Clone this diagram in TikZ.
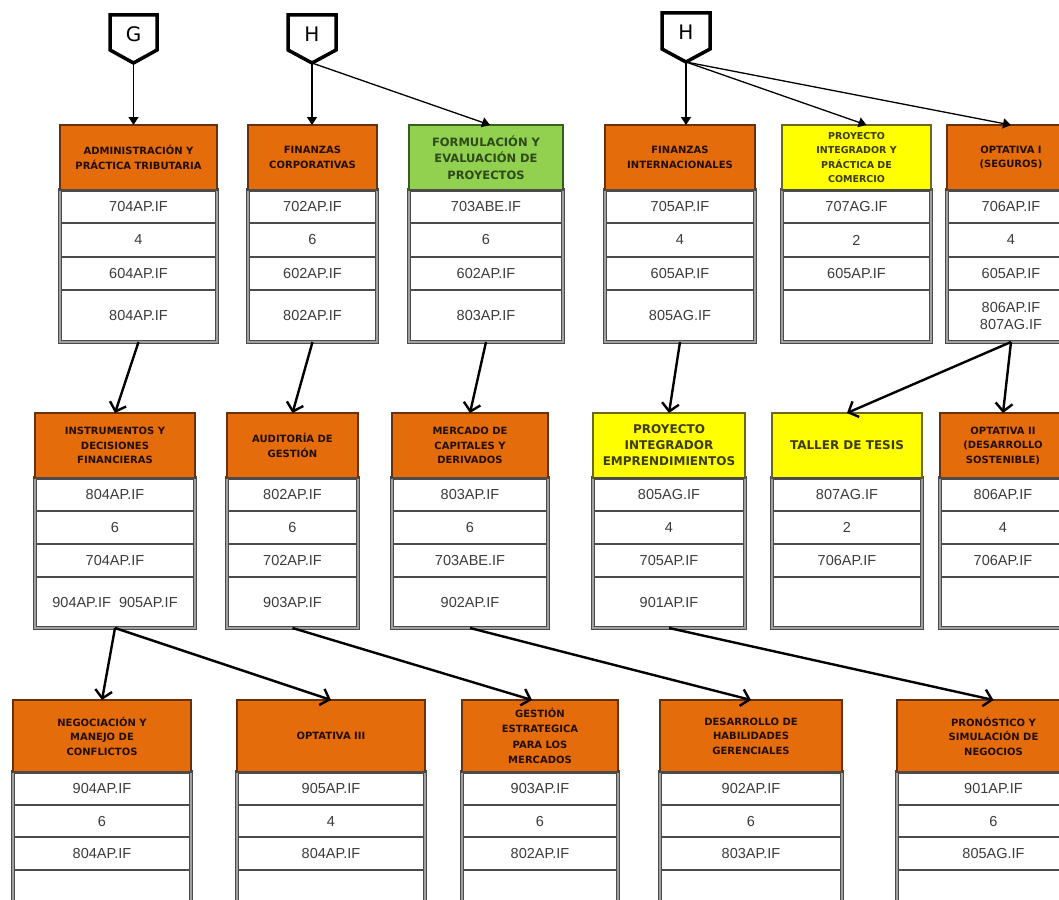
\documentclass[tikz,border=0pt]{standalone}
\usepackage{fontspec}
\setmainfont{Liberation Sans}
\newfontfamily\hdfont{DejaVu Sans}
\usetikzlibrary{arrows.meta,calc}

\definecolor{orangeh}{RGB}{228,108,10}
\definecolor{greenh}{RGB}{146,208,80}
\definecolor{yellowh}{RGB}{255,255,0}
\definecolor{orangeb}{RGB}{105,48,12}
\definecolor{greenb}{RGB}{55,95,30}
\definecolor{yellowb}{RGB}{105,105,25}
\definecolor{framedark}{RGB}{75,75,75}
\definecolor{framelight}{RGB}{160,160,160}
\definecolor{celltext}{RGB}{60,60,60}
\definecolor{hdcol}{RGB}{35,15,5}
\definecolor{hdgreencol}{RGB}{45,75,25}
\definecolor{hdyellowcol}{RGB}{60,60,20}

\tikzset{
  boxbg/.style={fill=white, inner sep=0pt, outer sep=0pt, anchor=north west},
  frameline/.style={draw=framedark, double=framelight, line width=1.1pt, double distance=1.8pt},
  sepline/.style={draw=framedark, line width=1.3pt},
  hdorange/.style={fill=orangeh, draw=orangeb},
  hdgreen/.style={fill=greenh, draw=greenb},
  hdyellow/.style={fill=yellowh, draw=yellowb},
  hdtext/.style={align=center, inner sep=0pt, text=hdcol,
    font=\hdfont\bfseries\fontsize{10}{14.5}\selectfont},
  cell/.style={align=center, inner sep=0pt, text=celltext,
    font=\fontsize{14.5}{16.5}\selectfont},
  toparr/.style={line width=1.3pt, -{Triangle[width=10pt,length=8pt]}},
  midarr/.style={line width=2.4pt, -{Straight Barb[width=17pt,length=8pt]}},
  pent/.style={line width=3.5pt, draw=black, fill=white, line join=miter},
  pentlabel/.style={font=\hdfont\fontsize{20}{20}\selectfont, inner sep=0pt},
}

\newcommand\rowgeom[1]{\ifcase#1\or
  \def\ttop{125}\def\thb{190}\def\tsa{223}\def\tsb{257}\def\tsc{290}\def\tbot{342}\or
  \def\ttop{413}\def\thb{478}\def\tsa{511}\def\tsb{544}\def\tsc{577}\def\tbot{628}\or
  \def\ttop{700}\def\thb{772}\def\tsa{805}\def\tsb{837}\def\tsc{870}\def\tbot{935}\fi}

% #1 name, #2 x1, #3 x2, #4 row, #5 header style, #6 text options, #7 header text
\newcommand\cbox[7]{%
  \rowgeom{#4}%
  \pgfmathsetmacro\cx{(#2+#3)/2}%
  \pgfmathsetlengthmacro\bw{(#3-#2)*1pt}%
  \pgfmathsetlengthmacro\bh{(\tbot-\ttop)*1pt}%
  \pgfmathsetmacro\hy{(\ttop+\thb)/2}%
  \node[boxbg, minimum width=\bw, minimum height=\bh] (#1) at (#2,\ttop) {};
  \foreach \s in {\tsa,\tsb,\tsc} \draw[sepline] (#2,\s) -- (#3,\s);
  \draw[frameline] (#2,\thb) rectangle (#3,\tbot);
  \draw[#5, line width=2pt] (#2,\ttop) rectangle (#3,\thb);
  \draw[sepline] (#2,\thb) -- (#3,\thb);
  \node[hdtext, #6] (#1-h) at (\cx,\hy) {#7};
}
\newcommand\ccells[5]{%
  \node[cell] (#1-1) at (\cx,{(\thb+\tsa)/2}) {#2};
  \node[cell] (#1-2) at (\cx,{(\tsa+\tsb)/2}) {#3};
  \node[cell] (#1-3) at (\cx,{(\tsb+\tsc)/2}) {#4};
  \node[cell] (#1-4) at (\cx,{(\tsc+\tbot)/2}) {#5};
}

\begin{document}
\begin{tikzpicture}[x=1pt,y=-1pt]
\useasboundingbox (0,0) rectangle (1059,899);
\fill[white] (0,0) rectangle (1059,899);
\clip (0,0) rectangle (1059,899);

% ---------- row 1 ----------
\cbox{A}{60}{217}{1}{hdorange}{}{ADMINISTRACIÓN Y\\PRÁCTICA TRIBUTARIA}
\ccells{A}{704AP.IF}{4}{604AP.IF}{804AP.IF}
\cbox{B}{248}{377}{1}{hdorange}{}{FINANZAS\\CORPORATIVAS}
\ccells{B}{702AP.IF}{6}{602AP.IF}{802AP.IF}
\cbox{C}{409}{563}{1}{hdgreen}{text=hdgreencol, font=\hdfont\bfseries\fontsize{11.5}{16.5}\selectfont}{FORMULACIÓN Y\\EVALUACIÓN DE\\PROYECTOS}
\ccells{C}{703ABE.IF}{6}{602AP.IF}{803AP.IF}
\cbox{D}{605}{755}{1}{hdorange}{}{FINANZAS\\INTERNACIONALES}
\ccells{D}{705AP.IF}{4}{605AP.IF}{805AG.IF}
\cbox{E}{782}{931}{1}{hdyellow}{text=hdyellowcol, font=\hdfont\bfseries\fontsize{9.5}{14.5}\selectfont}{PROYECTO\\INTEGRADOR Y\\PRÁCTICA DE\\COMERCIO}
\ccells{E}{707AG.IF}{2}{605AP.IF}{}
\cbox{F}{947}{1075}{1}{hdorange}{}{OPTATIVA I\\(SEGUROS)}
\ccells{F}{706AP.IF}{4}{605AP.IF}{806AP.IF\\807AG.IF}

% ---------- row 2 ----------
\cbox{G}{35}{195}{2}{hdorange}{}{INSTRUMENTOS Y\\DECISIONES\\FINANCIERAS}
\ccells{G}{804AP.IF}{6}{704AP.IF}{904AP.IF\ \ 905AP.IF}
\cbox{H}{227}{358}{2}{hdorange}{}{AUDITORÍA DE\\GESTIÓN}
\ccells{H}{802AP.IF}{6}{702AP.IF}{903AP.IF}
\cbox{I}{392}{548}{2}{hdorange}{}{MERCADO DE\\CAPITALES Y\\DERIVADOS}
\ccells{I}{803AP.IF}{6}{703ABE.IF}{902AP.IF}
\cbox{J}{593}{745}{2}{hdyellow}{text=hdyellowcol, font=\hdfont\bfseries\fontsize{12}{16}\selectfont}{PROYECTO\\INTEGRADOR\\EMPRENDIMIENTOS}
\ccells{J}{805AG.IF}{4}{705AP.IF}{901AP.IF}
\cbox{K}{772}{922}{2}{hdyellow}{text=hdyellowcol, font=\hdfont\bfseries\fontsize{12}{14}\selectfont}{TALLER DE TESIS}
\ccells{K}{807AG.IF}{2}{706AP.IF}{}
\cbox{L}{940}{1066}{2}{hdorange}{}{OPTATIVA II\\(DESARROLLO\\SOSTENIBLE)}
\ccells{L}{806AP.IF}{4}{706AP.IF}{}

% ---------- row 3 ----------
\cbox{M}{13}{191}{3}{hdorange}{}{NEGOCIACIÓN Y\\MANEJO DE\\CONFLICTOS}
\ccells{M}{904AP.IF}{6}{804AP.IF}{}
\cbox{N}{237}{425}{3}{hdorange}{}{OPTATIVA III}
\ccells{N}{905AP.IF}{4}{804AP.IF}{}
\cbox{O}{462}{618}{3}{hdorange}{font=\hdfont\bfseries\fontsize{10}{15.5}\selectfont}{GESTIÓN\\ESTRATEGICA\\PARA LOS\\MERCADOS}
\ccells{O}{903AP.IF}{6}{802AP.IF}{}
\cbox{P}{660}{842}{3}{hdorange}{}{DESARROLLO DE\\HABILIDADES\\GERENCIALES}
\ccells{P}{902AP.IF}{6}{803AP.IF}{}
\cbox{Q}{897}{1090}{3}{hdorange}{}{PRONÓSTICO Y\\SIMULACIÓN DE\\NEGOCIOS}
\ccells{Q}{901AP.IF}{6}{805AG.IF}{}

% ---------- off-page connectors ----------
\draw[pent] (110,15) -- (157,15) -- (157,50) -- (133.5,63) -- (110,50) -- cycle;
\node[pentlabel] (pG) at (133.5,34) {G};
\coordinate (pGtip) at (133.5,63);

\draw[pent] (288,15) -- (336,15) -- (336,50) -- (312,63) -- (288,50) -- cycle;
\node[pentlabel] (pH1) at (312,34) {H};
\coordinate (pH1tip) at (312,63);

\draw[pent] (662,13) -- (710,13) -- (710,49) -- (686,62) -- (662,49) -- cycle;
\node[pentlabel] (pH2) at (686,32) {H};
\coordinate (pH2tip) at (686,62);

% ---------- connectors ----------
\draw[toparr] (pGtip) -- (pGtip |- A.north);
\draw[toparr] (pH1tip) -- (pH1tip |- B.north);
\draw[toparr] (pH1tip) -- ([xshift=4pt]C.north);
\draw[toparr] (pH2tip) -- (pH2tip |- D.north);
\draw[toparr] (pH2tip) -- ([xshift=10pt]E.north);
\draw[toparr] (pH2tip) -- (F.north);

\draw[midarr] (A.south) -- (G.north);
\draw[midarr] (B.south) -- (H.north);
\draw[midarr] (C.south) -- (I.north);
\draw[midarr] (D.south) -- (J.north);
\draw[midarr] (F.south) -- (K.north);
\draw[midarr] (F.south) -- (L.north);
\draw[midarr] (G.south) -- (M.north);
\draw[midarr] (G.south) -- (N.north);
\draw[midarr] (H.south) -- ([xshift=-8pt]O.north);
\draw[midarr] (I.south) -- (P.north);
\draw[midarr] (J.south) -- (Q.north);
\end{tikzpicture}
\end{document}
